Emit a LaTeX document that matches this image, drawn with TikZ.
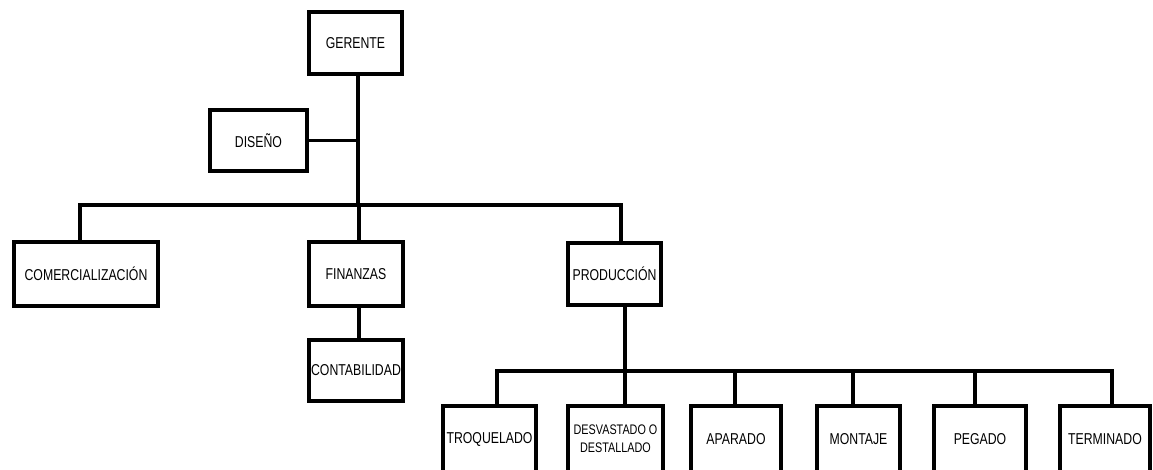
\documentclass[tikz,border=0pt]{standalone}
\usepackage{fontspec}
\setmainfont{Liberation Sans}[FakeStretch=0.78]
\begin{document}
\begin{tikzpicture}[x=0.75pt,y=-0.75pt,
  box/.style={draw=black,line width=3pt,fill=white,inner sep=1pt,align=center,
    font=\fontsize{11.8}{14}\selectfont,minimum height=#1*0.75pt},
  box/.default=62,
  small/.style={font=\fontsize{10.4}{13.5}\selectfont},
  conn/.style={line width=2.3pt}]
\useasboundingbox (0,0) rectangle (1153,470);
\clip (0,0) rectangle (1153,470);
% boxes
\node[box,minimum width=93*0.75pt] (ger) at (355.5,43) {GERENTE};
\node[box=61,minimum width=97*0.75pt] (dis) at (258.5,140.5) {DISEÑO};
\node[box=64,minimum width=144*0.75pt] (com) at (86,274) {COMERCIALIZACIÓN};
\node[box=64,minimum width=94*0.75pt] (fin) at (356,274) {FINANZAS};
\node[box=61,minimum width=94*0.75pt] (con) at (356,370.5) {CONTABILIDAD};
\node[box,minimum width=93*0.75pt] (pro) at (614.5,274) {PRODUCCIÓN};
\node[box=66,minimum width=93*0.75pt] (tro) at (489.5,439) {TROQUELADO};
\node[box=66,minimum width=95*0.75pt,small] (des) at (615.5,439) {DESVASTADO O\\DESTALLADO};
\node[box=66,minimum width=90*0.75pt] (apa) at (736,439) {APARADO};
\node[box=66,minimum width=83*0.75pt] (mon) at (858.5,439) {MONTAJE};
\node[box=66,minimum width=92*0.75pt] (peg) at (980,439) {PEGADO};
\node[box=66,minimum width=90*0.75pt] (ter) at (1105,439) {TERMINADO};
% bus coordinates
\coordinate (tr) at (358,205);
\coordinate (bc) at (80,205);
\coordinate (bf) at (359,205);
\coordinate (bp) at (621,205);
\coordinate (pd) at (625,371);
\coordinate (l1) at (497,371);
\coordinate (l2) at (625,371);
\coordinate (l3) at (735,371);
\coordinate (l4) at (853,371);
\coordinate (l5) at (975,371);
\coordinate (l6) at (1112,371);
% connectors
\draw[conn] (tr |- ger.south) -- (tr);
\draw[conn] (dis.east) -- (dis.east -| tr);
\draw[conn] (bc |- com.north) -- (bc) -- (bp) -- (bp |- pro.north);
\draw[conn] (bf) -- (bf |- fin.north);
\draw[conn] (bf |- fin.south) -- (bf |- con.north);
\draw[conn] (pd |- pro.south) -- (pd);
\draw[conn] (l1 |- tro.north) -- (l1) -- (l6) -- (l6 |- ter.north);
\draw[conn] (l2) -- (l2 |- des.north);
\draw[conn] (l3) -- (l3 |- apa.north);
\draw[conn] (l4) -- (l4 |- mon.north);
\draw[conn] (l5) -- (l5 |- peg.north);
\end{tikzpicture}
\end{document}
